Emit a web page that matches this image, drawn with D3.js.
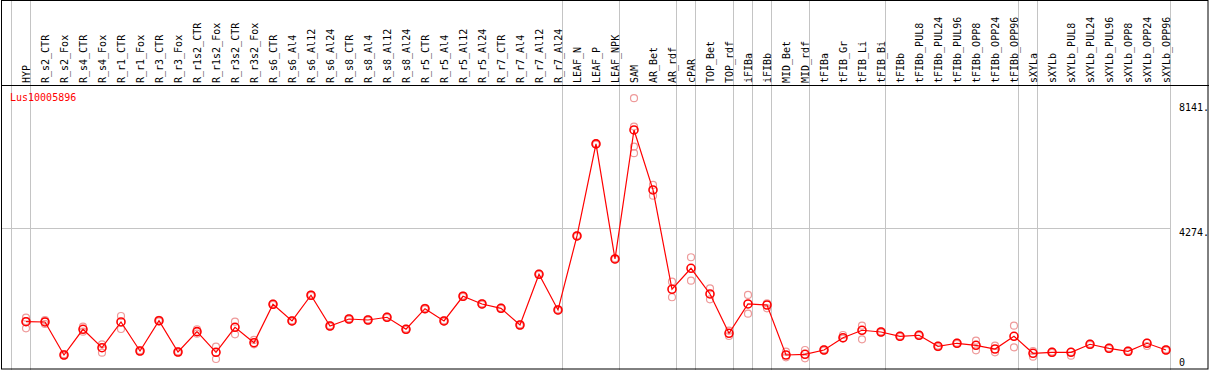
<!DOCTYPE html>
<html>
<head>
<meta charset="utf-8">
<script src="https://cdn.jsdelivr.net/npm/d3@7"></script>
<style>
  body { margin: 0; background: #fff; }
  text { font-family: "DejaVu Sans Mono", monospace; font-size: 10px; }
</style>
</head>
<body>
<div id="chart"></div>
<script>
//----------------------------
// Data
//----------------------------

var categories = ["HYP", "R_s2_CTR", "R_s2_Fox", "R_s4_CTR", "R_s4_Fox", "R_r1_CTR", "R_r1_Fox",
    "R_r3_CTR", "R_r3_Fox", "R_r1s2_CTR", "R_r1s2_Fox", "R_r3s2_CTR", "R_r3s2_Fox",
    "R_s6_CTR", "R_s6_Al4", "R_s6_Al12", "R_s6_Al24", "R_s8_CTR", "R_s8_Al4", "R_s8_Al12", "R_s8_Al24",
    "R_r5_CTR", "R_r5_Al4", "R_r5_Al12", "R_r5_Al24", "R_r7_CTR", "R_r7_Al4", "R_r7_Al12", "R_r7_Al24",
    "LEAF_N", "LEAF_P", "LEAF_NPK", "SAM", "AR_Bet", "AR_rdf", "cPAR", "TOP_Bet", "TOP_rdf",
    "iFIBa", "iFIBb", "MID_Bet", "MID_rdf", "tFIBa", "tFIB_Gr", "tFIB_Li", "tFIB_Bi",
    "tFIBb", "tFIBb_PUL8", "tFIBb_PUL24", "tFIBb_PUL96", "tFIBb_OPP8", "tFIBb_OPP24", "tFIBb_OPP96",
    "sXYLa", "sXYLb", "sXYLb_PUL8", "sXYLb_PUL24", "sXYLb_PUL96", "sXYLb_OPP8", "sXYLb_OPP24", "sXYLb_OPP96"];

var means = [1382, 1373, 355, 1148, 580, 1373, 478, 1413, 447, 1074, 438, 1209, 734,
    1919, 1404, 2197, 1249, 1465, 1434, 1518, 1148,
    1783, 1404, 2166, 1928, 1795, 1280, 2844, 1743,
    4026, 6864, 3316, 7294, 5445, 2382, 3029, 2237, 1024,
    1928, 1897, 355, 376, 509, 888, 1117, 1064,
    932, 963, 623, 716, 654, 540, 932,
    407, 438, 438, 685, 561, 469, 716, 509];

var replicates = [[1505, 1178, 1400], [1434, 1311, 1390], [380, 330], [1228, 1074], [685, 426],
    [1558, 1157], [500, 455], [1440, 1390], [470, 425], [1148, 1012], [611, 231], [1382, 993], [818, 685],
    [1940, 1900], [1425, 1385], [2220, 2175], [1270, 1230], [1485, 1445], [1455, 1415], [1540, 1500], [1170, 1125],
    [1805, 1760], [1425, 1385], [2190, 2145], [1950, 1905], [1815, 1775], [1300, 1260], [2865, 2825], [1765, 1720],
    [4045, 4005], [6885, 6845], [3335, 3295], [8274, 7398, 6781, 6577], [5599, 5269], [2616, 2135],
    [3369, 2647], [2412, 2073], [1104, 941],
    [2206, 1629], [1950, 1795], [457, 284], [509, 253], [530, 490], [972, 860], [1259, 839], [1085, 1045],
    [950, 915], [985, 945], [645, 600], [735, 700], [796, 500], [642, 438], [1259, 592],
    [478, 302], [460, 420], [333, 450], [705, 665], [580, 540], [490, 450], [632, 740], [530, 490]];

var groupStarts = ["HYP", "R_s2_CTR", "LEAF_N", "SAM", "cPAR", "TOP_Bet", "iFIBa", "iFIBb",
    "MID_Bet", "tFIBa", "tFIBb", "sXYLa", "sXYLb"];

var yTicks = [8141, 4274, 0];
var geneName = "Lus10005896";

//----------------------------
// Layout
//----------------------------

var w = 1209, h = 370;
var headerBottom = 85;

var svg = d3.select("#chart")
    .append("svg")
    .attr("width", w)
    .attr("height", h);

// each category gets a slot, the point sits 15px into it
var x = d3.scaleBand()
    .domain(categories)
    .range([11, 11 + categories.length * 19]);

var px = d => x(d) + 15;

var y = d3.scaleLinear()
    .domain([0, 8141])
    .range([366.5, 102.5]);

//----------------------------
// Grid lines
//----------------------------

var sepX = groupStarts.map(d => x(d)).concat([x.range()[1]]);

svg.selectAll("line.sep")
    .data(sepX)
    .enter()
    .append("line")
    .attr("class", "sep")
    .attr("x1", d => Math.round(d) + 0.5)
    .attr("x2", d => Math.round(d) + 0.5)
    .attr("y1", 0)
    .attr("y2", h)
    .attr("stroke", "#c4c4c4")
    .attr("stroke-width", 1);

svg.append("line")
    .attr("x1", 1)
    .attr("x2", x.range()[1])
    .attr("y1", Math.round(y(4274)) + 0.5)
    .attr("y2", Math.round(y(4274)) + 0.5)
    .attr("stroke", "#c4c4c4");

// frame + header separator
svg.append("rect")
    .attr("x", 1.5)
    .attr("y", 0.5)
    .attr("width", w - 2.5)
    .attr("height", h - 1.5)
    .attr("fill", "none")
    .attr("stroke", "#000");

svg.append("line")
    .attr("x1", 1)
    .attr("x2", w)
    .attr("y1", headerBottom + 0.5)
    .attr("y2", headerBottom + 0.5)
    .attr("stroke", "#000");

//----------------------------
// Header labels
//----------------------------

svg.selectAll("text.cat")
    .data(categories)
    .enter()
    .append("text")
    .attr("class", "cat")
    .attr("transform", d => "translate(" + (px(d) + 3.5) + "," + (headerBottom - 2) + ") rotate(-90)")
    .attr("fill", "#000")
    .text(d => d);

svg.append("text")
    .attr("x", 10)
    .attr("y", 101)
    .attr("fill", "#ff0000")
    .text(geneName);

svg.selectAll("text.ytick")
    .data(yTicks)
    .enter()
    .append("text")
    .attr("class", "ytick")
    .attr("x", 1179)
    .attr("y", d => d === 0 ? 366 : y(d) + 8)
    .attr("fill", "#000")
    .text(d => d === 0 ? "0" : d + ".");

//----------------------------
// Replicates, mean line, mean points
//----------------------------

var reps = [];
categories.forEach((c, i) => replicates[i].forEach(v => reps.push({ c: c, v: v })));

svg.selectAll("circle.rep")
    .data(reps)
    .enter()
    .append("circle")
    .attr("class", "rep")
    .attr("cx", d => px(d.c))
    .attr("cy", d => y(d.v))
    .attr("r", 3.5)
    .attr("fill", "none")
    .attr("stroke", "#ee9a9a")
    .attr("stroke-width", 1.2);

var line = d3.line()
    .x((d, i) => px(categories[i]))
    .y(d => y(d));

svg.append("path")
    .datum(means)
    .attr("d", line)
    .attr("fill", "none")
    .attr("stroke", "#ff0000")
    .attr("stroke-width", 1.2);

svg.selectAll("circle.mean")
    .data(means)
    .enter()
    .append("circle")
    .attr("class", "mean")
    .attr("cx", (d, i) => px(categories[i]))
    .attr("cy", d => y(d))
    .attr("r", 4)
    .attr("fill", "none")
    .attr("stroke", "#ff0000")
    .attr("stroke-width", 1.6);
</script>
</body>
</html>
